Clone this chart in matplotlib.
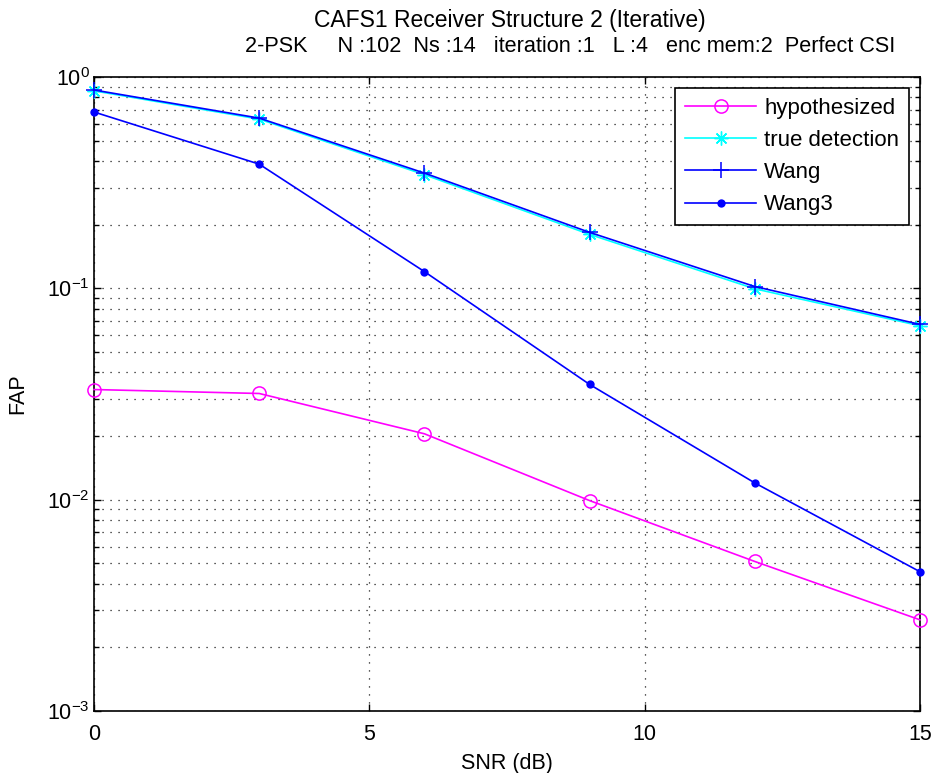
import matplotlib
matplotlib.use("Agg")
import matplotlib.pyplot as plt
import numpy as np
from matplotlib.ticker import LogLocator, MultipleLocator, NullFormatter

plt.rcParams['font.family'] = ['Liberation Sans', 'DejaVu Sans']
plt.rcParams['axes.unicode_minus'] = False

# SNR points and false-alarm probabilities per receiver
snr = [0, 3, 6, 9, 12, 15]
fap_hypothesized = [0.0332, 0.0318, 0.0205, 0.0099, 0.0051, 0.0027]
fap_true_detection = [0.86, 0.632, 0.345, 0.180, 0.0995, 0.0665]
fap_wang = [0.868, 0.639, 0.351, 0.184, 0.102, 0.0675]
fap_wang3 = [0.683, 0.387, 0.120, 0.0351, 0.0120, 0.00456]

fig = plt.figure(figsize=(9.42, 7.73), dpi=100)
ax = fig.add_axes([94 / 942, 62 / 773, 826 / 942, 634 / 773])

ax.semilogy(snr, fap_hypothesized, color='magenta', marker='o', ms=9.5, mfc='none',
            mew=1.1, lw=1.2, label='hypothesized', clip_on=False, zorder=3)
ax.semilogy(snr, fap_true_detection, color='cyan', marker=(8, 2, 0), ms=10, mew=1.0,
            lw=1.2, label='true detection', clip_on=False, zorder=3)
ax.semilogy(snr, fap_wang, color='blue', marker='+', ms=12, mew=1.1, lw=1.2,
            label='Wang', clip_on=False, zorder=4)
ax.semilogy(snr, fap_wang3, color='blue', marker='o', ms=6, mfc='blue', mew=0,
            lw=1.2, label='Wang3', clip_on=False, zorder=4)

ax.set_xlim(0, 15)
ax.set_ylim(1e-3, 1)
ax.xaxis.set_major_locator(MultipleLocator(5))
ax.yaxis.set_major_locator(LogLocator(base=10, numticks=10))
ax.yaxis.set_minor_locator(LogLocator(base=10, subs=np.arange(2, 10), numticks=10))
ax.yaxis.set_minor_formatter(NullFormatter())

# dotted grid, y minor lines included
dots = (0, (0.9, 5.5))
ax.grid(True, which='major', axis='both', color='black', lw=0.9, ls=dots)
ax.grid(True, which='minor', axis='y', color='black', lw=0.9, ls=dots)

ax.tick_params(which='both', direction='in', top=True, right=True,
               labelsize=15.5, width=1.0)
ax.tick_params(which='major', length=5)
ax.tick_params(which='minor', length=3.5)
ax.tick_params(axis='x', pad=9)
ax.tick_params(axis='y', pad=3)
for s in ax.spines.values():
    s.set_linewidth(1.2)

ax.set_xlabel('SNR (dB)', fontsize=15.5, labelpad=6)
ax.set_ylabel('FAP', fontsize=15.5, labelpad=14)

fig.text(510 / 942, 1 - 20 / 773, 'CAFS1 Receiver Structure 2 (Iterative)',
         ha='center', va='center', fontsize=16.5)
fig.text(245 / 942, 1 - 46 / 773,
         '2-PSK     N :102  Ns :14   iteration :1   L :4   enc mem:2  Perfect CSI',
         ha='left', va='center', fontsize=15.6)

leg = ax.legend(loc='upper right', bbox_to_anchor=(909 / 942, 1 - 88 / 773),
                bbox_transform=fig.transFigure, fontsize=16, fancybox=False,
                framealpha=1, edgecolor='black', borderpad=0.45,
                labelspacing=0.5, handlelength=3.2, handletextpad=0.35,
                borderaxespad=0)
leg.get_frame().set_linewidth(1.2)

fig.savefig('out.png', dpi=100)
